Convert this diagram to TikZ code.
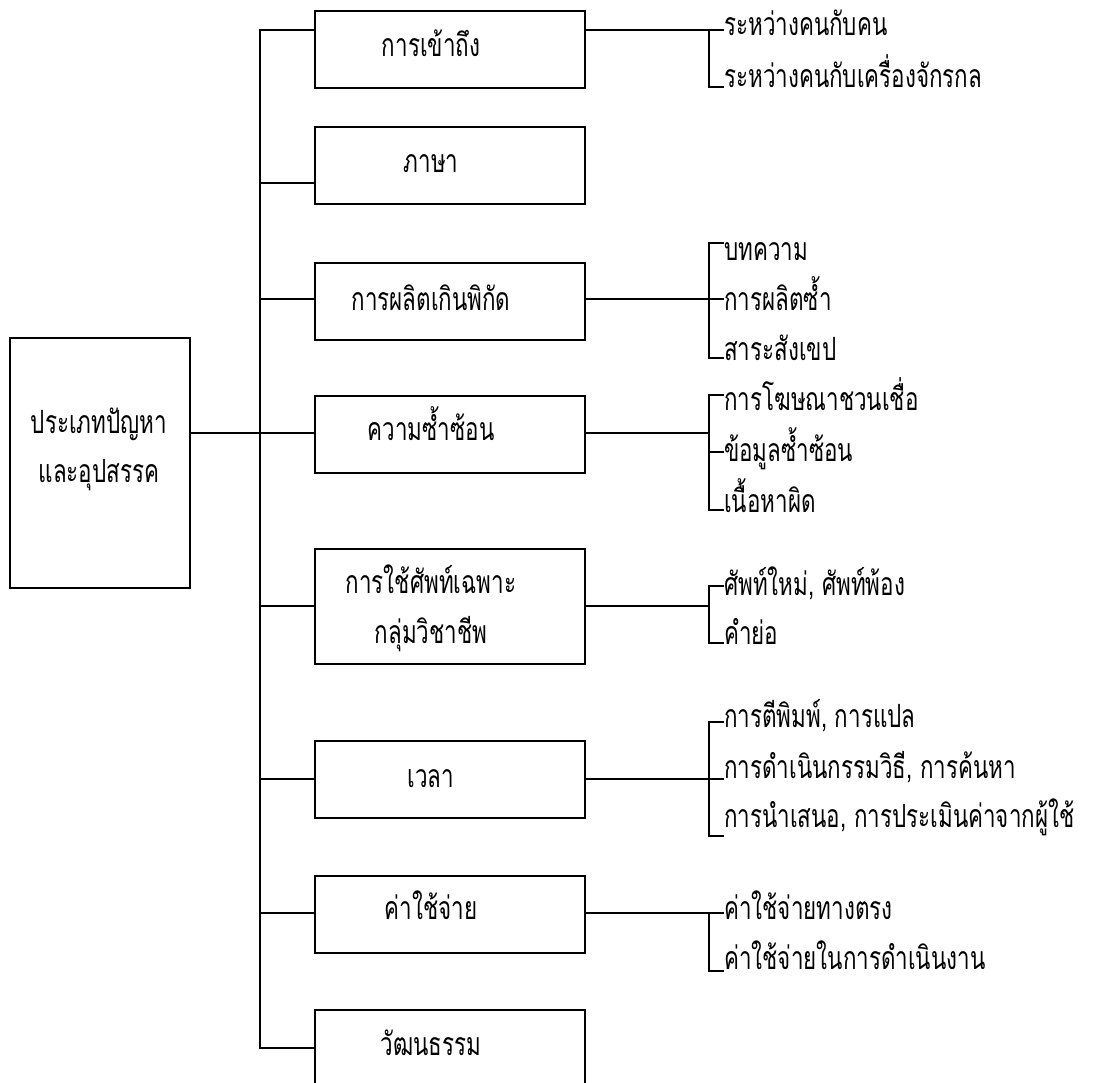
\documentclass[tikz,border=0pt]{standalone}
\usepackage{fontspec}
\newfontfamily\thai[Script=Thai,FakeStretch=0.7]{Loma}
\begin{document}
\begin{tikzpicture}[x=1pt,y=-1pt,
  box/.style={draw,line width=2pt,rectangle,inner sep=0pt,anchor=north west},
  conn/.style={line width=2pt},
  txt/.style={font=\thai\fontsize{32}{32}\selectfont,inner sep=0pt},
  item/.style={txt,anchor=base west},
  lbl/.style={txt,anchor=base}]
\clip (0,0) rectangle (1110,1082);
% main box
\node[box,minimum width=180pt,minimum height=250pt] (m) at (9,337) {};
\node[lbl] (mt1) at (99,433) {ประเภทปัญหา};
\node[lbl] (mt2) at (99,482) {และอุปสรรค};
% child boxes
\node[box,minimum width=270pt,minimum height=77pt] (b1) at (314,10) {};
\node[box,minimum width=270pt,minimum height=77pt] (b2) at (314,126) {};
\node[box,minimum width=270pt,minimum height=77pt] (b3) at (314,262) {};
\node[box,minimum width=270pt,minimum height=77pt] (b4) at (314,395) {};
\node[box,minimum width=270pt,minimum height=115pt] (b5) at (314,548) {};
\node[box,minimum width=270pt,minimum height=77pt] (b6) at (314,740) {};
\node[box,minimum width=270pt,minimum height=77pt] (b7) at (314,875) {};
\node[box,minimum width=270pt,minimum height=77pt] (b8) at (314,1009) {};
\node[lbl] (t1) at (431,56) {การเข้าถึง};
\node[lbl] (t2) at (431,172) {ภาษา};
\node[lbl] (t3) at (431,310) {การผลิตเกินพิกัด};
\node[lbl] (t4) at (431,440) {ความซ้ำซ้อน};
\node[lbl] (t5a) at (431,593) {การใช้ศัพท์เฉพาะ};
\node[lbl] (t5b) at (431,643) {กลุ่มวิชาชีพ};
\node[lbl] (t6) at (431,787) {เวลา};
\node[lbl] (t7) at (431,919) {ค่าใช้จ่าย};
\node[lbl] (t8) at (431,1055) {วัฒนธรรม};
% trunk
\coordinate (k1) at (260,30);
\coordinate (k2) at (260,183);
\coordinate (k3) at (260,299);
\coordinate (k4) at (260,433);
\coordinate (k5) at (260,606);
\coordinate (k6) at (260,779);
\coordinate (k7) at (260,913);
\coordinate (k8) at (260,1048);
\draw[conn,line cap=rect] (k1) -- (k8);
\draw[conn] (m.east |- k4) -- (k4);
\foreach \i in {1,...,8} {\draw[conn] (k\i) -- (b\i.west |- k\i);}
% sub-item columns
\coordinate (v1a) at (709,30);  \coordinate (v1b) at (709,87);
\coordinate (v3a) at (709,243); \coordinate (v3b) at (709,358);
\coordinate (v4a) at (709,395); \coordinate (v4b) at (709,510);
\coordinate (v5a) at (709,586); \coordinate (v5b) at (709,643);
\coordinate (v6a) at (709,722); \coordinate (v6b) at (709,836);
\coordinate (v7a) at (709,913); \coordinate (v7b) at (709,971);
% items
\node[item] (s11) at (724,35) {ระหว่างคนกับคน};
\node[item] (s12) at (724,87) {ระหว่างคนกับเครื่องจักรกล};
\node[item] (s31) at (724,260) {บทความ};
\node[item] (s32) at (724,310) {การผลิตซ้ำ};
\node[item] (s33) at (724,360) {สาระสังเขป};
\node[item] (s41) at (724,410) {การโฆษณาชวนเชื่อ};
\node[item] (s42) at (724,461) {ข้อมูลซ้ำซ้อน};
\node[item] (s43) at (724,512) {เนื้อหาผิด};
\node[item] (s51) at (724,595) {ศัพท์ใหม่, ศัพท์พ้อง};
\node[item] (s52) at (724,644) {คำย่อ};
\node[item] (s61) at (724,727) {การตีพิมพ์, การแปล};
\node[item] (s62) at (724,778) {การดำเนินกรรมวิธี, การค้นหา};
\node[item] (s63) at (724,827) {การนำเสนอ, การประเมินค่าจากผู้ใช้};
\node[item] (s71) at (724,919) {ค่าใช้จ่ายทางตรง};
\node[item] (s72) at (724,969) {ค่าใช้จ่ายในการดำเนินงาน};
% box-to-items connectors
\draw[conn] (b1.east |- v1a) -- (s11.west |- v1a);
\draw[conn] (v1a) -- (v1b) -- (s12.west |- v1b);
\draw[conn] (b3.east |- k3) -- (s32.west |- k3);
\draw[conn] (s31.west |- v3a) -- (v3a) -- (v3b) -- (s33.west |- v3b);
\draw[conn] (b4.east |- k4) -- (v4a |- k4);
\draw[conn] (s41.west |- v4a) -- (v4a) -- (v4b) -- (s43.west |- v4b);
\draw[conn] (v4a |- 0,452) -- (s42.west |- 0,452);
\draw[conn] (b5.east |- k5) -- (v5a |- k5);
\draw[conn] (s51.west |- v5a) -- (v5a) -- (v5b) -- (s52.west |- v5b);
\draw[conn] (b6.east |- k6) -- (s62.west |- k6);
\draw[conn] (s61.west |- v6a) -- (v6a) -- (v6b) -- (s63.west |- v6b);
\draw[conn] (b7.east |- k7) -- (s71.west |- k7);
\draw[conn] (v7a) -- (v7b) -- (s72.west |- v7b);
\end{tikzpicture}
\end{document}
